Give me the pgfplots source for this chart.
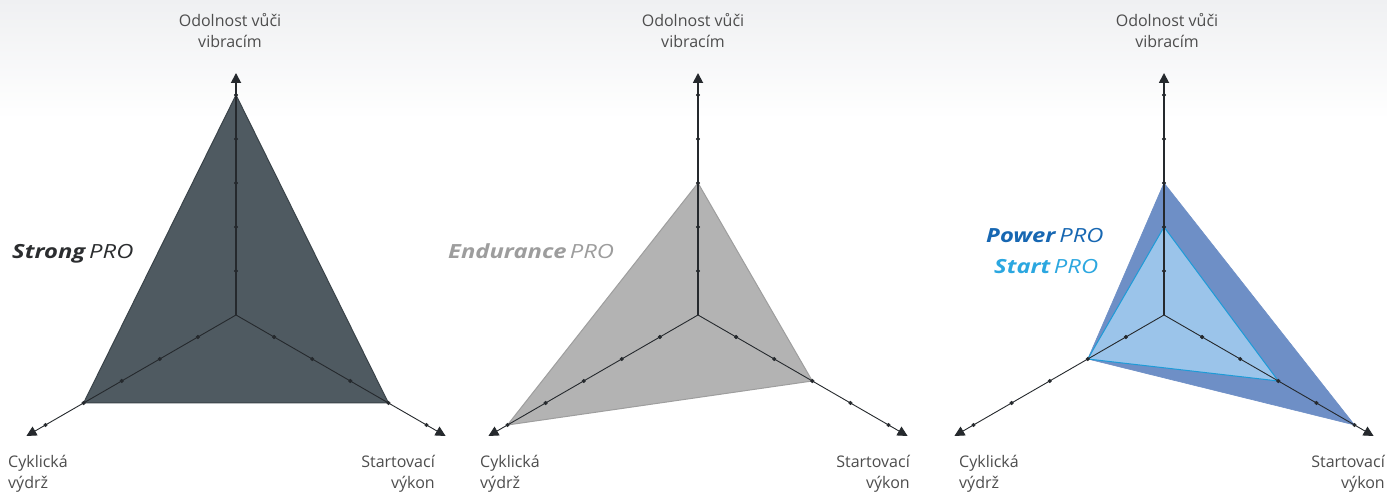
\documentclass[border=0pt]{standalone}
\usepackage{graphicx}
\usepackage{pgfplots}
\pgfplotsset{compat=1.18}
\usetikzlibrary{arrows.meta}
\usepackage{fontspec}
\setmainfont{Open Sans}
\definecolor{axiscol}{HTML}{25292D}
\definecolor{strongfill}{HTML}{4F5A61}
\definecolor{strongedge}{HTML}{3A4349}
\definecolor{endfill}{HTML}{B3B3B3}
\definecolor{endedge}{HTML}{9E9E9E}
\definecolor{powerfill}{HTML}{6E8FC6}
\definecolor{startfill}{HTML}{9BC4EA}
\definecolor{startedge}{HTML}{1E9BD7}
\definecolor{labelcol}{HTML}{4D4D4D}
\definecolor{strongtitle}{HTML}{2B2D2F}
\definecolor{endtitle}{HTML}{9D9D9D}
\definecolor{powertitle}{HTML}{1767B2}
\definecolor{starttitle}{HTML}{2BA7E0}
\definecolor{bgtop}{HTML}{EFF0F2}
\pgfplotsset{radar/.style={x=44pt,y=44pt,xmin=-5,xmax=5,ymin=-4,ymax=6,hide axis,clip=false,anchor=south west}}
\newcommand{\radaraxes}{%
  \addplot[axiscol, line width=1.8pt, data cs=polar, -{Triangle[length=10pt,width=10pt]}] coordinates {(90,0) (90,5.5)};
  \addplot[axiscol, line width=0.9pt, data cs=polar, -{Triangle[length=10pt,width=10pt]}] coordinates {(210,0) (210,5.5)};
  \addplot[axiscol, line width=0.9pt, data cs=polar, -{Triangle[length=10pt,width=10pt]}] coordinates {(330,0) (330,5.5)};
  \addplot[only marks, mark=*, mark size=1.9pt, axiscol, data cs=polar] coordinates {(90,1) (90,2) (90,3) (90,4) (90,5) (210,1) (210,2) (210,3) (210,4) (210,5) (330,1) (330,2) (330,3) (330,4) (330,5)};
}
\newcommand{\lab}{\fontsize{16}{22}\selectfont}
\newcommand{\ttl}{\fontsize{19.5}{22}\selectfont}
\newcommand{\logo}[2]{\scalebox{1.22}[1]{\textbf{\textit{#1}}\hspace{2.5pt}\textit{#2}}}
\begin{document}
\begin{tikzpicture}[x=1pt,y=1pt]
\path[use as bounding box] (0,0) rectangle (1387,494);
\fill[white] (0,0) rectangle (1387,494);
\shade[top color=bgtop, bottom color=white] (0,375) rectangle (1387,494);

% Chart 1: Strong PRO
\begin{axis}[radar, at={(16pt,3pt)}]
  \addplot[fill=strongfill, draw=strongedge, line width=1pt, line join=round, data cs=polar] coordinates {(90,5) (210,4) (330,4) (90,5)};
  \radaraxes
\end{axis}
% Chart 2: Endurance PRO
\begin{axis}[radar, at={(478pt,3pt)}]
  \addplot[fill=endfill, draw=endedge, line width=1pt, line join=round, data cs=polar] coordinates {(90,3) (210,5) (330,3) (90,3)};
  \radaraxes
\end{axis}
% Chart 3: Power PRO / Start PRO
\begin{axis}[radar, at={(944pt,3pt)}]
  \addplot[fill=powerfill, draw=powerfill, line width=0.6pt, line join=round, data cs=polar] coordinates {(90,3) (210,2) (330,5) (90,3)};
  \addplot[fill=startfill, draw=startedge, line width=1pt, line join=round, data cs=polar] coordinates {(90,2) (210,2) (330,3) (90,2)};
  \radaraxes
\end{axis}

% axis labels
\foreach \cx/\lx/\rx in {230/8/435, 693/480/910, 1167/959/1385} {
  \node[anchor=base, inner sep=0, text=labelcol, font=\lab] at (\cx,467) {Odolnost vůči};
  \node[anchor=base, inner sep=0, text=labelcol, font=\lab] at (\cx,446) {vibracím};
  \node[anchor=base west, inner sep=0, text=labelcol, font=\lab] at (\lx,26) {Cyklická};
  \node[anchor=base west, inner sep=0, text=labelcol, font=\lab] at (\lx,5) {výdrž};
  \node[anchor=base east, inner sep=0, text=labelcol, font=\lab] at (\rx,26) {Startovací};
  \node[anchor=base east, inner sep=0, text=labelcol, font=\lab] at (\rx,5) {výkon};
}

% titles
\node[anchor=base west, inner sep=0, text=strongtitle, font=\ttl] at (12,235) {\logo{Strong}{PRO}};
\node[anchor=base west, inner sep=0, text=endtitle, font=\ttl] at (448,235) {\logo{Endurance}{PRO}};
\node[anchor=base west, inner sep=0, text=powertitle, font=\ttl] at (986,251) {\logo{Power}{PRO}};
\node[anchor=base west, inner sep=0, text=starttitle, font=\ttl] at (994,220) {\logo{Start}{PRO}};
\end{tikzpicture}
\end{document}
